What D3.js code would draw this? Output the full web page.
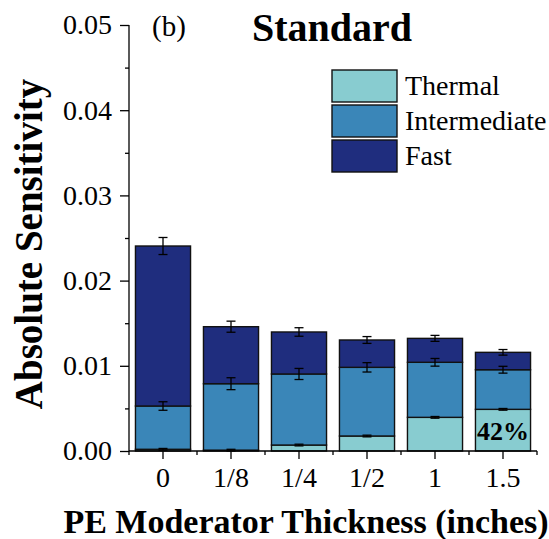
<!DOCTYPE html>
<html>
<head>
<meta charset="utf-8">
<script src="https://cdn.jsdelivr.net/npm/d3@7"></script>
<style>
  html, body { margin: 0; padding: 0; background: #fff; }
  svg text { font-family: "Liberation Serif", "Times New Roman", serif; fill: #000; }
</style>
</head>
<body>
<svg id="chart" width="549" height="539"></svg>
<script>
// PE moderator thickness categories (inches)
const categories = ["0", "1/8", "1/4", "1/2", "1", "1.5"];

// Segment heights of each stacked bar (absolute sensitivity)
const thermal      = [0.0002, 0.0001, 0.0007, 0.00176, 0.00395, 0.00489];
const intermediate = [0.00508, 0.0078, 0.00834, 0.00806, 0.00646, 0.00465];
const fast         = [0.01878, 0.00669, 0.00493, 0.00321, 0.00281, 0.00204];

// Error half-widths at the top of each segment
const thermalErr      = [0.0001, 0.0001, 0.0001, 0.0001, 0.0001, 0.0001];
const intermediateErr = [0.0005, 0.0007, 0.00065, 0.00055, 0.00045, 0.0004];
const fastErr         = [0.001, 0.00065, 0.0005, 0.0004, 0.00035, 0.00033];

const yTicks = [0, 0.01, 0.02, 0.03, 0.04, 0.05];
const seriesNames = ["Thermal", "Intermediate", "Fast"];
const seriesColors = ["#88ccd0", "#3a86b8", "#1f2d7e"];

const svg = d3.select("#chart");
const margin = { top: 25, right: 12, bottom: 88, left: 129 };
const W = 549, H = 539;

const x = d3.scaleBand()
  .domain(categories)
  .range([margin.left, W - margin.right])
  .paddingInner(0.19)
  .paddingOuter(0.095);

const y = d3.scaleLinear()
  .domain([0, 0.05])
  .range([H - margin.bottom, margin.top]);

// stacked layout
const rows = categories.map((c, i) => ({
  cat: c,
  Thermal: thermal[i],
  Intermediate: intermediate[i],
  Fast: fast[i]
}));
const errs = { Thermal: thermalErr, Intermediate: intermediateErr, Fast: fastErr };
const stack = d3.stack().keys(seriesNames)(rows);

const gBars = svg.append("g");
stack.forEach((layer, li) => {
  gBars.selectAll(null)
    .data(layer)
    .enter()
    .append("rect")
    .attr("x", d => x(d.data.cat))
    .attr("width", x.bandwidth())
    .attr("y", d => y(d[1]))
    .attr("height", d => y(d[0]) - y(d[1]))
    .attr("fill", seriesColors[li])
    .attr("stroke", "#111")
    .attr("stroke-width", 1.4);
});

// error bars at the top of each segment
const gErr = svg.append("g").attr("stroke", "#000").attr("stroke-width", 1.3).attr("fill", "none");
stack.forEach(layer => {
  const key = layer.key;
  layer.forEach((d, i) => {
    const cx = x(d.data.cat) + x.bandwidth() / 2;
    const e = errs[key][i];
    const y1 = y(d[1] + e), y2 = y(d[1] - e);
    gErr.append("line").attr("x1", cx).attr("x2", cx).attr("y1", y1).attr("y2", y2);
    gErr.append("line").attr("x1", cx - 4.5).attr("x2", cx + 4.5).attr("y1", y1).attr("y2", y1);
    gErr.append("line").attr("x1", cx - 4.5).attr("x2", cx + 4.5).attr("y1", y2).attr("y2", y2);
  });
});

// y axis with outward major and minor ticks
const yAxis = svg.append("g")
  .attr("transform", `translate(${margin.left},0)`)
  .call(d3.axisLeft(y).tickValues(yTicks).tickFormat(d3.format(".2f")).tickSize(9).tickPadding(8));
svg.append("g")
  .attr("transform", `translate(${margin.left},0)`)
  .call(d3.axisLeft(y).tickValues([0.005, 0.015, 0.025, 0.035, 0.045]).tickSize(4).tickFormat(""))
  .call(g => g.select(".domain").remove())
  .selectAll("line").attr("stroke", "#000").attr("stroke-width", 1.3);

// x axis: major ticks at bar centres, minor ticks between bars
const xAxis = svg.append("g")
  .attr("transform", `translate(0,${H - margin.bottom})`)
  .call(d3.axisBottom(x).tickSize(8).tickPadding(8).tickSizeOuter(0));
const bounds = categories.map(c => x(c) - x.step() * x.paddingInner() / 2)
  .concat([W - margin.right]);
bounds[0] = margin.left;
svg.append("g").attr("stroke", "#000").attr("stroke-width", 1.3)
  .selectAll(null).data(bounds).enter().append("line")
  .attr("x1", d => d).attr("x2", d => d)
  .attr("y1", H - margin.bottom).attr("y2", H - margin.bottom + 4);

[yAxis, xAxis].forEach(g => {
  g.selectAll("path, line").attr("stroke", "#000").attr("stroke-width", 1.3);
  g.selectAll("text").style("font-size", "28px").style("font-family", "Liberation Serif");
});
yAxis.select(".domain").attr("d", `M0,${y(0)}V${y(0.05)}`);
xAxis.select(".domain").attr("d", `M${margin.left},0H${W - margin.right}`);

// axis titles
svg.append("text")
  .attr("x", 306)
  .attr("y", 533)
  .attr("text-anchor", "middle")
  .style("font-size", "34px").style("font-weight", "bold")
  .text("PE Moderator Thickness (inches)");

svg.append("text")
  .attr("transform", `translate(42,${(margin.top + H - margin.bottom) / 2 + 6}) rotate(-90)`)
  .attr("text-anchor", "middle")
  .style("font-size", "39px").style("font-weight", "bold")
  .text("Absolute Sensitivity");

// panel tag and title
svg.append("text").attr("x", 152).attr("y", 36).style("font-size", "29px").text("(b)");
svg.append("text").attr("x", 332).attr("y", 41).attr("text-anchor", "middle")
  .style("font-size", "40px").style("font-weight", "bold").text("Standard");

// thermal share label on the thickest moderator bar
const last = categories.length - 1;
const share = thermal[last] / (thermal[last] + intermediate[last] + fast[last]);
svg.append("text")
  .attr("x", x(categories[last]) + x.bandwidth() / 2)
  .attr("y", 440)
  .attr("text-anchor", "middle")
  .style("font-size", "26px").style("font-weight", "bold")
  .text(Math.round(share * 100) + "%");

// legend
const legend = svg.append("g").attr("transform", "translate(332,70)");
seriesNames.forEach((name, i) => {
  legend.append("rect")
    .attr("x", 0).attr("y", i * 35)
    .attr("width", 65).attr("height", 32)
    .attr("fill", seriesColors[i])
    .attr("stroke", "#111").attr("stroke-width", 1.4);
  legend.append("text")
    .attr("x", 73).attr("y", i * 35 + 25)
    .style("font-size", "28px")
    .text(name);
});
</script>
</body>
</html>
